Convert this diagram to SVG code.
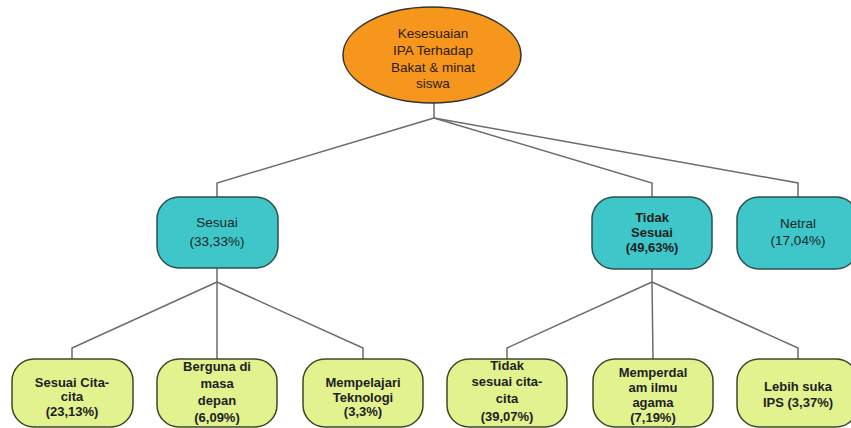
<svg xmlns="http://www.w3.org/2000/svg" width="851" height="428" viewBox="0 0 851 428">
<style>
.t{font-family:"Liberation Sans",Arial,sans-serif;font-size:13.5px;fill:#1a2626;text-anchor:middle}
.r{fill:#2b1c05}
.b{font-weight:bold;fill:#1e1e1e;font-size:13px}
.l1{fill:#3ec6c9;stroke:#2f4f4f;stroke-width:1.5}
.l2{fill:#e1f28e;stroke:#3a4a2a;stroke-width:1.5}
.c{fill:none;stroke:#6b6b6b;stroke-width:1.5}
</style>
<rect width="851" height="428" fill="#fff"/>
<g id="connectors">
<polyline class="c" points="434,103 434,118"/>
<polyline class="c" points="434,118 217,183 217,197"/>
<polyline class="c" points="434,118 652,183 652,197"/>
<polyline class="c" points="434,118 798,183 798,197"/>
<polyline class="c" points="217,268 217,282"/>
<polyline class="c" points="217,282 72,348 72,359"/>
<polyline class="c" points="217,282 217,359"/>
<polyline class="c" points="217,282 363,348 363,359"/>
<polyline class="c" points="652,269 652,282"/>
<polyline class="c" points="652,282 507,348 507,359"/>
<polyline class="c" points="652,282 653,359"/>
<polyline class="c" points="652,282 798,348 798,359"/>
</g>
<g id="root">
<ellipse cx="432" cy="55" rx="89" ry="48" fill="#f7961d" stroke="#333" stroke-width="1.5"/>
<text class="t r" x="433" y="38">Kesesuaian</text>
<text class="t r" x="433" y="55">IPA Terhadap</text>
<text class="t r" x="433" y="72">Bakat &amp; minat</text>
<text class="t r" x="433" y="88">siswa</text>
</g>
<g id="sesuai">
<rect class="l1" x="157" y="197" width="121" height="71" rx="22"/>
<text class="t" x="217" y="227">Sesuai</text>
<text class="t" x="217" y="246">(33,33%)</text>
</g>
<g id="tidak-sesuai">
<rect class="l1" x="592" y="197" width="120" height="72" rx="22"/>
<text class="t b" x="652" y="222">Tidak</text>
<text class="t b" x="652" y="237">Sesuai</text>
<text class="t b" x="652" y="252">(49,63%)</text>
</g>
<g id="netral">
<rect class="l1" x="737" y="197" width="121" height="72" rx="22"/>
<text class="t" x="798" y="228">Netral</text>
<text class="t" x="798" y="245">(17,04%)</text>
</g>
<g id="sesuai-cita">
<rect class="l2" x="12" y="359" width="121" height="68" rx="22"/>
<text class="t b" x="72" y="387">Sesuai Cita-</text>
<text class="t b" x="72" y="401">cita</text>
<text class="t b" x="72" y="416">(23,13%)</text>
</g>
<g id="berguna">
<rect class="l2" x="157" y="359" width="120" height="68" rx="22"/>
<text class="t b" x="217" y="371">Berguna di</text>
<text class="t b" x="217" y="388">masa</text>
<text class="t b" x="217" y="405">depan</text>
<text class="t b" x="217" y="422">(6,09%)</text>
</g>
<g id="mempelajari">
<rect class="l2" x="303" y="359" width="120" height="68" rx="22"/>
<text class="t b" x="363" y="387">Mempelajari</text>
<text class="t b" x="363" y="402">Teknologi</text>
<text class="t b" x="363" y="416">(3,3%)</text>
</g>
<g id="tidak-sesuai-cita">
<rect class="l2" x="447" y="359" width="120" height="68" rx="22"/>
<text class="t b" x="507" y="370">Tidak</text>
<text class="t b" x="507" y="386">sesuai cita-</text>
<text class="t b" x="507" y="403">cita</text>
<text class="t b" x="507" y="421">(39,07%)</text>
</g>
<g id="memperdalam">
<rect class="l2" x="593" y="359" width="120" height="68" rx="22"/>
<text class="t b" x="653" y="377">Memperdal</text>
<text class="t b" x="653" y="392">am ilmu</text>
<text class="t b" x="653" y="407">agama</text>
<text class="t b" x="653" y="422">(7,19%)</text>
</g>
<g id="lebih-suka">
<rect class="l2" x="737" y="359" width="121" height="68" rx="22"/>
<text class="t b" x="798" y="391">Lebih suka</text>
<text class="t b" x="798" y="407">IPS (3,37%)</text>
</g>
</svg>
